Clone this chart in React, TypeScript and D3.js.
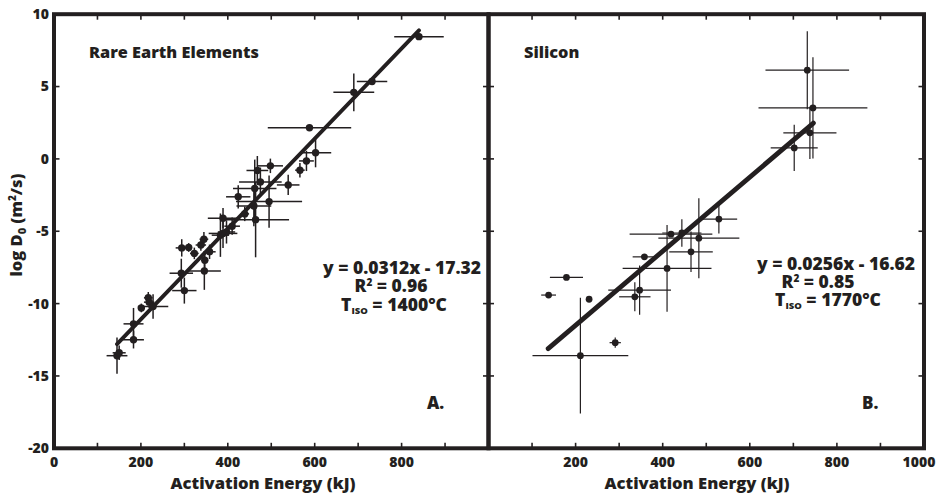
import React from "react";
import * as d3 from "d3";

// ---------- DATA ----------
// [activation energy (kJ), log D0, energy error, logD error]
const reePoints: number[][] = [
  [145, -13.6, 24, 1.25],
  [150, -13.4, 15, 0.5],
  [183, -11.4, 23, 1.1],
  [183, -12.5, 24, 0.6],
  [201, -10.3, 8, 0.3],
  [217, -9.6, 10, 0.4],
  [219, -9.9, 12, 0.4],
  [228, -10.2, 35, 0.85],
  [293, -7.9, 27, 1.0],
  [300, -9.1, 28, 0.9],
  [294, -6.15, 14, 0.6],
  [310, -6.12, 8, 0.3],
  [323, -6.53, 10, 0.4],
  [338, -5.95, 12, 0.4],
  [345, -5.55, 10, 0.5],
  [358, -6.42, 14, 0.5],
  [347, -7.0, 8, 0.6],
  [346, -7.75, 38, 1.3],
  [383, -5.27, 20, 1.5],
  [389, -5.15, 33, 1.0],
  [397, -5.05, 20, 0.8],
  [410, -4.65, 18, 0.6],
  [389, -4.1, 35, 0.7],
  [424, -2.62, 28, 0.8],
  [439, -3.8, 10, 0.5],
  [460, -3.25, 40, 1.4],
  [464, -4.2, 77, 2.6],
  [462, -2.05, 50, 2.0],
  [468, -0.8, 25, 1.0],
  [475, -1.6, 49, 1.0],
  [495, -2.95, 76, 1.8],
  [498, -0.48, 29, 0.5],
  [539, -1.8, 26, 0.7],
  [566, -0.78, 11, 0.5],
  [581, -0.14, 17, 0.7],
  [602, 0.42, 36, 1.0],
  [588, 2.15, 96, 0],
  [690, 4.6, 47, 1.3],
  [732, 5.35, 35, 0],
  [840, 8.45, 57, 0.2],
];

const siPoints: number[][] = [
  [138, -9.41, 17, 0],
  [179, -8.19, 38, 0],
  [231, -9.7, 0, 0],
  [211, -13.6, 110, 4.0],
  [291, -12.7, 13, 0.35],
  [336, -9.53, 36, 1.0],
  [347, -9.07, 72, 1.7],
  [358, -6.77, 27, 0],
  [410, -7.57, 102, 3.0],
  [419, -5.2, 95, 0],
  [444, -5.12, 45, 0.95],
  [465, -6.42, 50, 1.4],
  [483, -5.48, 93, 2.76],
  [529, -4.16, 42, 1.0],
  [702, 0.76, 54, 1.6],
  [738, 1.8, 61, 1.8],
  [745, 3.52, 125, 3.5],
  [732, 6.13, 96, 2.7],
];

// fit: slope, intercept, xMin, xMax
const reeFit = [0.0312, -17.32, 145, 840];
const siFit = [0.0256, -16.62, 137, 746];

const yTicks = [-20, -15, -10, -5, 0, 5, 10];
const xTicksMinor = [100, 200, 300, 400, 500, 600, 700, 800, 900];
const leftXLabels = [0, 200, 400, 600, 800];
const rightXLabels = [200, 400, 600, 800, 1000];

const C = "#231f20";
const FONT = "'Open Sans', 'DejaVu Sans', sans-serif";

export default function App() {
  const W = 943, H = 494;
  const y = d3.scaleLinear().domain([-20, 10]).range([448.3, 14.2]);
  const xL = d3.scaleLinear().domain([0, 1000]).range([54, 488.5]);
  const xR = d3.scaleLinear().domain([0, 1000]).range([488.5, 924]);
  const line = d3.line<number[]>().x((d) => d[0]).y((d) => d[1]);

  const panel = (
    x: d3.ScaleLinear<number, number>,
    pts: number[][],
    fit: number[],
    key: string,
    fitWidth: number,
    errW: number,
    r: number
  ) => {
    const [x0, x1] = x.range();
    const [yb, yt] = y.range();
    const fitPts = [fit[2], fit[3]].map((e) => [x(e), y(fit[0] * e + fit[1])]);
    return (
      <g key={key}>
        {xTicksMinor.map((t) => (
          <g key={"xt" + t}>
            <line x1={x(t)} x2={x(t)} y1={yb} y2={yb - 5.5} stroke={C} strokeWidth={1.6} />
            <line x1={x(t)} x2={x(t)} y1={yt} y2={yt + 5.5} stroke={C} strokeWidth={1.6} />
          </g>
        ))}
        {yTicks.slice(1, -1).map((t) => (
          <g key={"yt" + t}>
            <line x1={x0} x2={x0 + 5.5} y1={y(t)} y2={y(t)} stroke={C} strokeWidth={1.6} />
            <line x1={x1} x2={x1 - 5.5} y1={y(t)} y2={y(t)} stroke={C} strokeWidth={1.6} />
          </g>
        ))}
        {pts.map((p, i) => (
          <g key={"e" + i} stroke={C} strokeWidth={errW}>
            {p[2] > 0 && (
              <line x1={x(p[0] - p[2])} x2={x(p[0] + p[2])} y1={y(p[1])} y2={y(p[1])} />
            )}
            {p[3] > 0 && (
              <line x1={x(p[0])} x2={x(p[0])} y1={y(p[1] - p[3])} y2={y(p[1] + p[3])} />
            )}
          </g>
        ))}
        {pts.map((p, i) => (
          <circle key={"c" + i} cx={x(p[0])} cy={y(p[1])} r={r} fill={C} />
        ))}
        <path d={line(fitPts as any) || ""} stroke={C} strokeWidth={fitWidth} strokeLinecap="round" fill="none" />
        <rect x={x0} y={yt} width={x1 - x0} height={yb - yt} fill="none" stroke={C} strokeWidth={4} />
      </g>
    );
  };

  return (
    <svg
      width={W}
      height={H}
      style={{ position: "absolute", left: 0, top: 0, background: "#fff" }}
      fontFamily={FONT}
      fontWeight={800}
      fill={C}
    >
      <rect x={0} y={0} width={W} height={H} fill="#fff" />
      {panel(xL, reePoints, reeFit, "L", 3.9, 1.5, 3.7)}
      {panel(xR, siPoints, siFit, "R", 4.8, 1.2, 3.4)}

      {yTicks.map((t) => (
        <text key={"yl" + t} x={49} y={y(t)} dy="0.35em" textAnchor="end" fontSize={14}>
          {t}
        </text>
      ))}
      {leftXLabels.map((t) => (
        <text key={"xl" + t} x={xL(t)} y={466.5} textAnchor="middle" fontSize={14}>
          {t}
        </text>
      ))}
      {rightXLabels.map((t) => (
        <text key={"xr" + t} x={xR(t) - (t === 1000 ? 5 : 0)} y={466.5} textAnchor="middle" fontSize={14}>
          {t}
        </text>
      ))}

      <text x={263} y={489} textAnchor="middle" fontSize={16.6}>Activation Energy (kJ)</text>
      <text x={697} y={489} textAnchor="middle" fontSize={16.6}>Activation Energy (kJ)</text>
      <text transform="translate(22,225) rotate(-90)" textAnchor="middle" fontSize={16.5}>
        log D<tspan fontSize={11} dy={4}>0</tspan>
        <tspan dy={-4}> (m</tspan>
        <tspan fontSize={10} dy={-6}>2</tspan>
        <tspan dy={6}>/s)</tspan>
      </text>

      <text x={89} y={58} fontSize={16.3}>Rare Earth Elements</text>
      <text x={524} y={58} fontSize={16.3}>Silicon</text>

      <text x={402} y={273.5} textAnchor="middle" fontSize={17.5}>y = 0.0312x - 17.32</text>
      <text x={391} y={291.5} textAnchor="middle" fontSize={17.5}>
        R<tspan fontSize={10} dy={-6}>2</tspan><tspan dy={6}> = 0.96</tspan>
      </text>
      <text x={394} y={310.5} textAnchor="middle" fontSize={17.5}>
        T<tspan fontSize={9.5} dy={3}>ISO</tspan><tspan dy={-3}> = 1400°C</tspan>
      </text>

      <text x={836} y={269.5} textAnchor="middle" fontSize={17.5}>y = 0.0256x - 16.62</text>
      <text x={818} y={287.5} textAnchor="middle" fontSize={17.5}>
        R<tspan fontSize={10} dy={-6}>2</tspan><tspan dy={6}> = 0.85</tspan>
      </text>
      <text x={828} y={306} textAnchor="middle" fontSize={17.5}>
        T<tspan fontSize={9.5} dy={3}>ISO</tspan><tspan dy={-3}> = 1770°C</tspan>
      </text>

      <text x={427} y={409} fontSize={17}>A.</text>
      <text x={862} y={409} fontSize={17}>B.</text>
    </svg>
  );
}
